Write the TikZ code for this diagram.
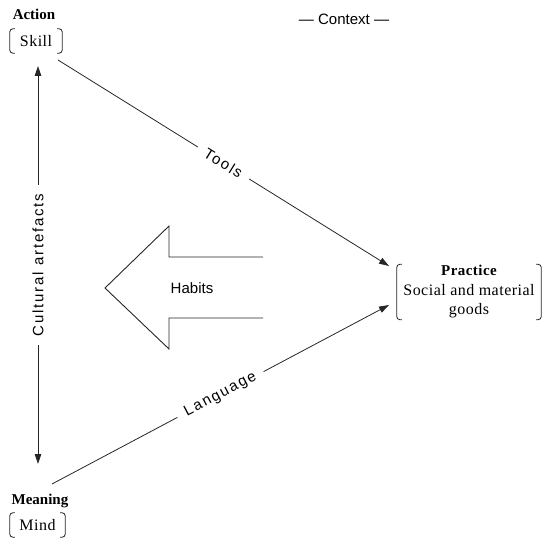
\documentclass[tikz,border=0pt]{standalone}
\usepackage{fontspec}
\setmainfont{Liberation Serif}
\setsansfont{Liberation Sans}
\newfontfamily\spacedsans[LetterSpace=12]{Liberation Sans}
\newfontfamily\widerserif[LetterSpace=3]{Liberation Serif}
\usetikzlibrary{arrows.meta}

% side brackets drawn on the left and right edges of a node
\newcommand{\sidebrackets}[1]{%
  \draw[bracket] ([xshift=5pt]#1.north west) -- (#1.north west) -- (#1.south west) -- ([xshift=5pt]#1.south west);
  \draw[bracket] ([xshift=-5pt]#1.north east) -- (#1.north east) -- (#1.south east) -- ([xshift=-5pt]#1.south east);}

\tikzset{
  serif text/.style={font=\fontsize{16}{19}\widerserif, inner sep=0pt},
  head text/.style={font=\fontsize{15}{17}\selectfont\bfseries, inner sep=0pt},
  sans text/.style={font=\fontsize{15}{17}\sffamily, inner sep=0pt},
  boxed/.style={serif text, align=center},
  link/.style={draw=black!85, line width=0.8pt, -{Triangle[length=10pt,width=6.5pt]}},
  twoway/.style={draw=black!85, line width=0.8pt, {Triangle[length=10pt,width=6.5pt]}-{Triangle[length=10pt,width=6.5pt]}},
  cut label/.style={fill=white, font=\fontsize{15}{17}\spacedsans, inner xsep=9pt, inner ysep=2pt},
  bracket/.style={line width=0.8pt, rounded corners=3pt, draw=black!85},
  habit arrow/.style={line width=0.9pt, line join=miter, draw=black!85},
}

\begin{document}
\begin{tikzpicture}[x=1pt, y=-1pt]
  \useasboundingbox (0,0) rectangle (544,540);

  % the three corners
  \node[head text] (action) at (34,14) {Action};
  \node[boxed, minimum width=52pt, minimum height=24pt] (skill) at (36,41) {Skill};
  \sidebrackets{skill}

  \node[head text] (meaning) at (40,501) {Meaning};
  \node[boxed, minimum width=55pt, minimum height=24pt] (mind) at (37.5,525) {Mind};
  \sidebrackets{mind}

  \node[boxed, minimum width=144pt, minimum height=55pt] (practice) at (469,292)
    {{\fontsize{15}{17}\selectfont\bfseries Practice}\\[1pt]Social and material\\goods};
  \sidebrackets{practice}

  \node[sans text] (context) at (344,19) {— Context —};

  % end points of the connectors
  \coordinate (vtop) at (38,66);
  \coordinate (vbot) at (38,464);
  \coordinate (tstart) at (58,60);
  \coordinate (tend) at (389,266);
  \coordinate (lstart) at (52,484);
  \coordinate (lend) at (389,305);

  \draw[twoway] (vbot) -- node[cut label, sloped] {Cultural artefacts} (vtop);
  \draw[link] (tstart) -- node[cut label, sloped] {Tools} (tend);
  \draw[link] (lstart) -- node[cut label, sloped] {Language} (lend);

  % open block arrow pointing left
  \draw[habit arrow] (263,257) -- (169,257) -- (169,226) -- (105,288)
    -- (169,349) -- (169,318) -- (263,318);
  \node[sans text] (habits) at (192,288) {Habits};
\end{tikzpicture}
\end{document}
